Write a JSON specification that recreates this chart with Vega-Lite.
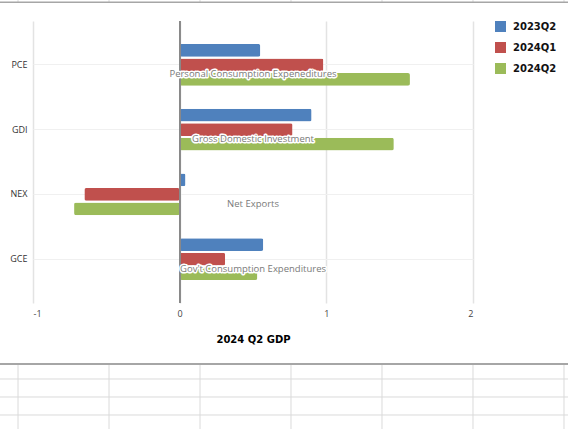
{
  "$schema": "https://vega.github.io/schema/vega-lite/v6.json",
  "autosize": {"type": "pad"},
  "padding": {"left": -2, "top": -1, "right": 2, "bottom": 1},
  "background": "white",
  "bounds": "flush",
  "spacing": 18,
  "config": {"view": {"stroke": null}},
  "resolve": {
    "scale": {"x": "independent", "y": "independent", "color": "independent"},
    "axis": {"x": "independent", "y": "independent"},
    "legend": {"color": "independent"}
  },
  "vconcat": [
    {
      "width": 535,
      "height": 3,
      "layer": [
        {
          "data": {"values": [{"col": 0}, {"col": 1}, {"col": 2}, {"col": 3}, {"col": 4}, {"col": 5}, {"col": 6}]},
          "mark": {"type": "rule", "color": "#dadada", "strokeWidth": 1},
          "encoding": {
            "x": {
              "field": "col", "type": "quantitative",
              "scale": {"domain": [0.1648, 6.044], "nice": false, "zero": false},
              "axis": null
            },
            "y": {
              "datum": 0, "type": "quantitative",
              "scale": {"domain": [0, 3], "nice": false, "zero": false, "reverse": true},
              "axis": null
            },
            "y2": {"datum": 2}
          }
        },
        {
          "data": {"values": [{"row": 2.2}]},
          "mark": {"type": "rule", "color": "#a6a6a6", "strokeWidth": 1.5},
          "encoding": {
            "y": {"field": "row", "type": "quantitative"},
            "x": {"datum": -0.198},
            "x2": {"datum": 6.044}
          }
        }
      ]
    },
    {
      "width": 440,
      "height": 282,
      "data": {
        "values": [
          {"component": "PCE", "quarter": "2023Q2", "value": 0.55},
          {"component": "PCE", "quarter": "2024Q1", "value": 0.98},
          {"component": "PCE", "quarter": "2024Q2", "value": 1.57},
          {"component": "GDI", "quarter": "2023Q2", "value": 0.9},
          {"component": "GDI", "quarter": "2024Q1", "value": 0.77},
          {"component": "GDI", "quarter": "2024Q2", "value": 1.46},
          {"component": "NEX", "quarter": "2023Q2", "value": 0.04},
          {"component": "NEX", "quarter": "2024Q1", "value": -0.65},
          {"component": "NEX", "quarter": "2024Q2", "value": -0.72},
          {"component": "GCE", "quarter": "2023Q2", "value": 0.57},
          {"component": "GCE", "quarter": "2024Q1", "value": 0.31},
          {"component": "GCE", "quarter": "2024Q2", "value": 0.53}
        ]
      },
      "layer": [
        {
          "mark": {"type": "bar", "cornerRadius": 2},
          "encoding": {
            "y": {
              "field": "component", "type": "nominal",
              "sort": ["PCE", "GDI", "NEX", "GCE"],
              "scale": {"paddingInner": 0.355, "paddingOuter": 0.355},
              "axis": {
                "title": null, "domain": false, "ticks": false,
                "labelPadding": 6, "labelFont": "Open Sans", "labelFontSize": 9,
                "labelColor": "#333333", "grid": true, "gridColor": "#f0f0f0",
                "gridWidth": 1, "bandPosition": 0.5
              }
            },
            "x": {
              "field": "value", "type": "quantitative",
              "scale": {"domain": [-1, 2], "nice": false},
              "axis": {
                "values": [-1, 0, 1, 2], "labelExpr": "'' + datum.value",
                "title": "2024 Q2 GDP",
                "titleFont": "DejaVu Sans", "titleFontWeight": "bold",
                "titleFontSize": 10, "titleColor": "#000000", "titlePadding": 16,
                "domain": false, "ticks": false, "labelPadding": 6,
                "labelFont": "Open Sans", "labelFontSize": 9, "labelColor": "#444444",
                "gridColor": "#e3e3e3", "gridWidth": 1.5
              }
            },
            "yOffset": {
              "field": "quarter", "type": "nominal",
              "sort": ["2023Q2", "2024Q1", "2024Q2"],
              "scale": {"paddingInner": 0.13}
            },
            "color": {
              "field": "quarter", "type": "nominal",
              "scale": {
                "domain": ["2023Q2", "2024Q1", "2024Q2"],
                "range": ["#4F81BD", "#C0504D", "#9BBB59"]
              },
              "legend": {
                "title": null, "orient": "right", "offset": 22, "padding": 0,
                "symbolType": "square", "symbolSize": 121, "symbolStrokeWidth": 0,
                "labelFont": "DejaVu Sans", "labelFontWeight": "bold",
                "labelFontSize": 10, "labelColor": "#111111",
                "labelOffset": 7, "rowPadding": 10
              }
            }
          }
        },
        {
          "mark": {"type": "rule", "color": "#8a8a8a", "strokeWidth": 1.2},
          "encoding": {"x": {"datum": 0}}
        },
        {
          "data": {
            "values": [
              {"component": "PCE", "label": "Personal Consumption Expeneditures"},
              {"component": "GDI", "label": "Gross Domestic Investment"},
              {"component": "NEX", "label": "Net Exports"},
              {"component": "GCE", "label": "Gov't Consumption Expenditures"}
            ]
          },
          "mark": {
            "type": "text", "font": "Open Sans", "fontSize": 9.5, "dy": 9.5,
            "color": "#ffffff", "stroke": "#ffffff", "strokeWidth": 3,
            "strokeJoin": "round", "baseline": "middle", "align": "center"
          },
          "encoding": {
            "x": {"datum": 0.5},
            "y": {"field": "component", "type": "nominal", "sort": ["PCE", "GDI", "NEX", "GCE"]},
            "text": {"field": "label"}
          }
        },
        {
          "data": {
            "values": [
              {"component": "PCE", "label": "Personal Consumption Expeneditures"},
              {"component": "GDI", "label": "Gross Domestic Investment"},
              {"component": "NEX", "label": "Net Exports"},
              {"component": "GCE", "label": "Gov't Consumption Expenditures"}
            ]
          },
          "mark": {
            "type": "text", "font": "Open Sans", "fontSize": 9.5, "dy": 9.5,
            "color": "#7a7a7a", "baseline": "middle", "align": "center"
          },
          "encoding": {
            "x": {"datum": 0.5},
            "y": {"field": "component", "type": "nominal", "sort": ["PCE", "GDI", "NEX", "GCE"]},
            "text": {"field": "label"}
          }
        }
      ]
    },
    {
      "width": 535,
      "height": 108,
      "layer": [
        {
          "data": {"values": [{"col": 0}, {"col": 1}, {"col": 2}, {"col": 3}, {"col": 4}, {"col": 5}, {"col": 6}]},
          "mark": {"type": "rule", "color": "#dadada", "strokeWidth": 1},
          "encoding": {
            "x": {
              "field": "col", "type": "quantitative",
              "scale": {"domain": [0.1648, 6.044], "nice": false, "zero": false},
              "axis": null
            },
            "y": {
              "datum": 0.1667, "type": "quantitative",
              "scale": {"domain": [-2.222, 3.778], "nice": false, "zero": false, "reverse": true},
              "axis": null
            },
            "y2": {"datum": 3.778}
          }
        },
        {
          "data": {"values": [{"row": 1}, {"row": 2}, {"row": 3}]},
          "mark": {"type": "rule", "color": "#dadada", "strokeWidth": 1},
          "encoding": {
            "y": {"field": "row", "type": "quantitative"},
            "x": {"datum": -0.198},
            "x2": {"datum": 6.044}
          }
        },
        {
          "data": {"values": [{"row": 0.1667}]},
          "mark": {"type": "rule", "color": "#a6a6a6", "strokeWidth": 2},
          "encoding": {
            "y": {"field": "row", "type": "quantitative"},
            "x": {"datum": -0.198},
            "x2": {"datum": 6.044}
          }
        }
      ]
    }
  ]
}
